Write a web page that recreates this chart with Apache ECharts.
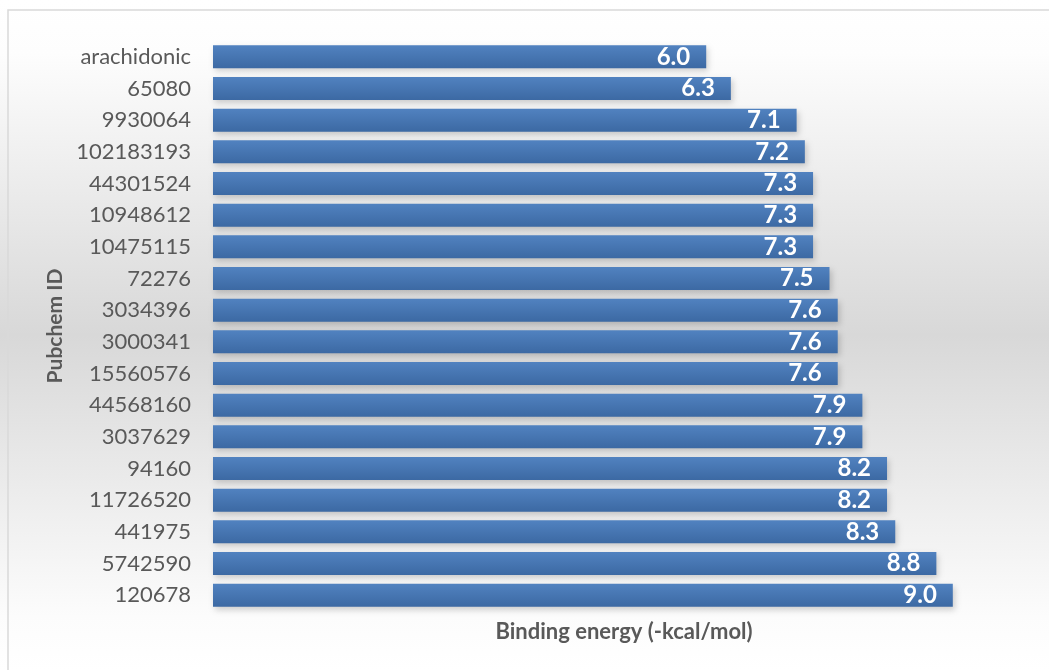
<!DOCTYPE html>
<html>
<head>
<meta charset="utf-8">
<script src="https://cdn.jsdelivr.net/npm/echarts@6/dist/echarts.min.js"></script>
<style>
html,body{margin:0;padding:0;background:#fff;}
#main{width:1049px;height:670px;}
</style>
</head>
<body>
<div id="main"></div>
<script>
const categories = ['arachidonic','65080','9930064','102183193','44301524','10948612','10475115','72276','3034396','3000341','15560576','44568160','3037629','94160','11726520','441975','5742590','120678'];
const bindingEnergy = [6.0,6.3,7.1,7.2,7.3,7.3,7.3,7.5,7.6,7.6,7.6,7.9,7.9,8.2,8.2,8.3,8.8,9.0];
const xAxisTitle = 'Binding energy (-kcal/mol)';
const yAxisTitle = 'Pubchem ID';

const chart = echarts.init(document.getElementById('main'));
chart.setOption({
  animation: false,
  backgroundColor: {
    type: 'linear', x: 0, y: 0, x2: 0, y2: 1,
    colorStops: [
      {offset: 0, color: '#ffffff'},
      {offset: 0.08, color: '#fdfdfd'},
      {offset: 0.5, color: '#d8d8d8'},
      {offset: 0.92, color: '#fcfcfc'},
      {offset: 1, color: '#ffffff'}
    ]
  },
  graphic: [{
    type: 'rect', silent: true,
    shape: {x: 8, y: 10, width: 1060, height: 700},
    style: {fill: null, stroke: '#d9d9d9', lineWidth: 1.5}
  }],
  grid: {left: 213, right: 14, top: 41, bottom: 59, containLabel: false},
  xAxis: {
    type: 'value', min: 0, max: 10,
    axisLabel: {show: false}, axisLine: {show: false}, axisTick: {show: false},
    splitLine: {show: false},
    name: xAxisTitle, nameLocation: 'middle', nameGap: 10,
    nameTextStyle: {fontFamily: 'Lato', fontWeight: 'bold', fontSize: 22, color: '#595959', verticalAlign: 'top'}
  },
  yAxis: {
    type: 'category', data: categories, inverse: true,
    axisLine: {show: false}, axisTick: {show: false},
    axisLabel: {fontFamily: 'Lato', fontSize: 22, color: '#595959', margin: 22},
    name: yAxisTitle, nameLocation: 'middle', nameGap: 144, nameRotate: 90,
    nameTextStyle: {fontFamily: 'Lato', fontWeight: 'bold', fontSize: 21, color: '#595959'}
  },
  series: [{
    type: 'bar', data: bindingEnergy, barWidth: 23,
    itemStyle: {
      color: {
        type: 'linear', x: 0, y: 0, x2: 0, y2: 1,
        colorStops: [{offset: 0, color: '#5182c0'}, {offset: 1, color: '#3c69a3'}]
      },
      shadowColor: 'rgba(0,0,0,0.18)', shadowBlur: 6, shadowOffsetX: 2, shadowOffsetY: 3
    },
    label: {
      show: true, position: 'insideRight', distance: 16,
      formatter: p => p.value.toFixed(1),
      fontFamily: 'Lato', fontWeight: 'bold', fontSize: 24, color: '#ffffff'
    }
  }]
});
</script>
</body>
</html>
